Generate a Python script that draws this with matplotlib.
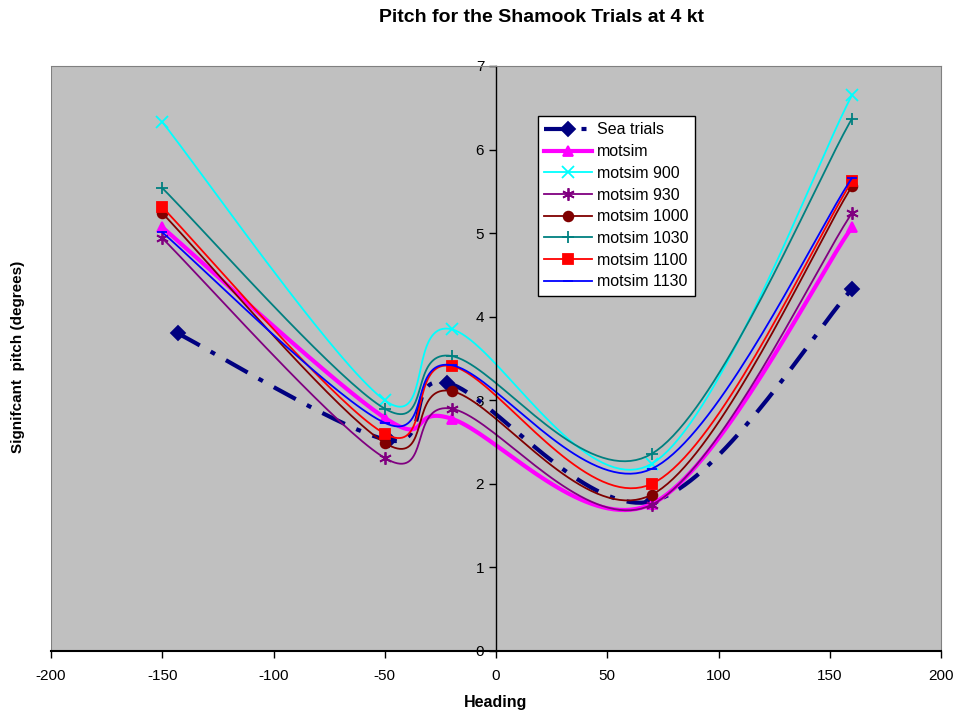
import numpy as np
import matplotlib.pyplot as plt

plt.rcParams['font.family'] = ['Liberation Sans', 'DejaVu Sans']
plt.rcParams['axes.unicode_minus'] = False

# headings of the simulation runs and of the sea trials
heading_sim = [-150, -50, -20, 70, 160]
heading_sea = [-143, -48, -22, 70, 160]

sea_trials = [3.80, 2.52, 3.21, 1.79, 4.33]
motsim = [5.07, 2.79, 2.78, 1.76, 5.07]
motsim_900 = [6.33, 3.00, 3.85, 2.24, 6.65]
motsim_930 = [4.94, 2.31, 2.90, 1.75, 5.24]
motsim_1000 = [5.24, 2.49, 3.11, 1.87, 5.56]
motsim_1030 = [5.54, 2.90, 3.53, 2.36, 6.37]
motsim_1100 = [5.31, 2.60, 3.41, 2.00, 5.62]
motsim_1130 = [5.01, 2.73, 3.42, 2.18, 5.66]

# Excel-like smoothed line: Catmull-Rom through the points in screen space
SX = 890 / 400.0
SY = 585 / 7.0


def smooth(xs, ys, n=40):
    p = np.column_stack([np.asarray(xs) * SX, np.asarray(ys) * SY])
    p = np.vstack([p[0], p, p[-1]])
    out = []
    t = np.linspace(0, 1, n)[:, None]
    for i in range(1, len(p) - 2):
        p0, p1, p2, p3 = p[i - 1], p[i], p[i + 1], p[i + 2]
        c1 = p1 + (p2 - p0) / 6.0
        c2 = p2 - (p3 - p1) / 6.0
        seg = ((1 - t) ** 3 * p1 + 3 * (1 - t) ** 2 * t * c1
               + 3 * (1 - t) * t ** 2 * c2 + t ** 3 * p2)
        out.append(seg if i == 1 else seg[1:])
    out = np.vstack(out)
    return out[:, 0] / SX, out[:, 1] / SY


fig = plt.figure(figsize=(9.55, 7.15), dpi=100)
ax = fig.add_axes([51 / 955, 1 - 651 / 715, 890 / 955, 585 / 715])
ax.set_facecolor('#c0c0c0')

series = [
    ('Sea trials', heading_sea, sea_trials, '#000080', 'D', 3.0, (0, (6, 3, 1.2, 3)), 7),
    ('motsim', heading_sim, motsim, '#ff00ff', '^', 3.0, '-', 7),
    ('motsim 900', heading_sim, motsim_900, '#00ffff', 'x', 1.3, '-', 8),
    ('motsim 930', heading_sim, motsim_930, '#800080', (6, 2, 0), 1.3, '-', 9),
    ('motsim 1000', heading_sim, motsim_1000, '#800000', 'o', 1.3, '-', 7),
    ('motsim 1030', heading_sim, motsim_1030, '#008080', '+', 1.3, '-', 9),
    ('motsim 1100', heading_sim, motsim_1100, '#ff0000', 's', 1.3, '-', 7),
    ('motsim 1130', heading_sim, motsim_1130, '#0000ff', '_', 1.3, '-', 7),
]

for name, xs, ys, col, mk, lw, ls, ms in series:
    sx, sy = smooth(xs, ys)
    ax.plot(sx, sy, color=col, lw=lw, ls=ls)
    ax.plot(xs, ys, ls='none', marker=mk, color=col, ms=ms, mew=1.3)
    ax.plot([], [], color=col, lw=lw, ls=ls, marker=mk, ms=ms, mew=1.3, label=name)

ax.set_xlim(-200, 200)
ax.set_ylim(0, 7)
ax.set_xticks(np.arange(-200, 201, 50))
ax.set_yticks(np.arange(0, 8, 1))

# axes cross at the origin
ax.spines['left'].set_position(('data', 0))
ax.spines['bottom'].set_position(('data', 0))
ax.spines['top'].set_color('#808080')
ax.spines['right'].set_color('#808080')
ax.spines['left'].set_linewidth(1.0)
ax.spines['bottom'].set_linewidth(1.5)
ax.tick_params(axis='both', direction='out', length=5, width=1, labelsize=11)
ax.tick_params(axis='x', pad=8)

# frame of the plot area on the left edge as well
ax.axvline(-200, color='#808080', lw=1.5)

fig.text(541 / 955, 1 - 17 / 715, 'Pitch for the Shamook Trials at 4 kt',
         ha='center', va='center', fontsize=14, fontweight='bold')
fig.text(496 / 955, 1 - 703 / 715, 'Heading', ha='center', va='center',
         fontsize=11.5, fontweight='bold')
fig.text(18 / 955, 1 - 357 / 715, 'Signifcant  pitch (degrees)', ha='center',
         va='center', rotation=90, fontsize=11, fontweight='bold')

leg = ax.legend(loc='upper left', bbox_to_anchor=((538 - 51) / 890, (651 - 116) / 585),
                fontsize=11.5, frameon=True, fancybox=False, framealpha=1,
                edgecolor='black', handlelength=3.0, handletextpad=0.3,
                borderpad=0.4, labelspacing=0.42, borderaxespad=0)
leg.get_frame().set_linewidth(1.0)

fig.savefig('out.png', dpi=100)
